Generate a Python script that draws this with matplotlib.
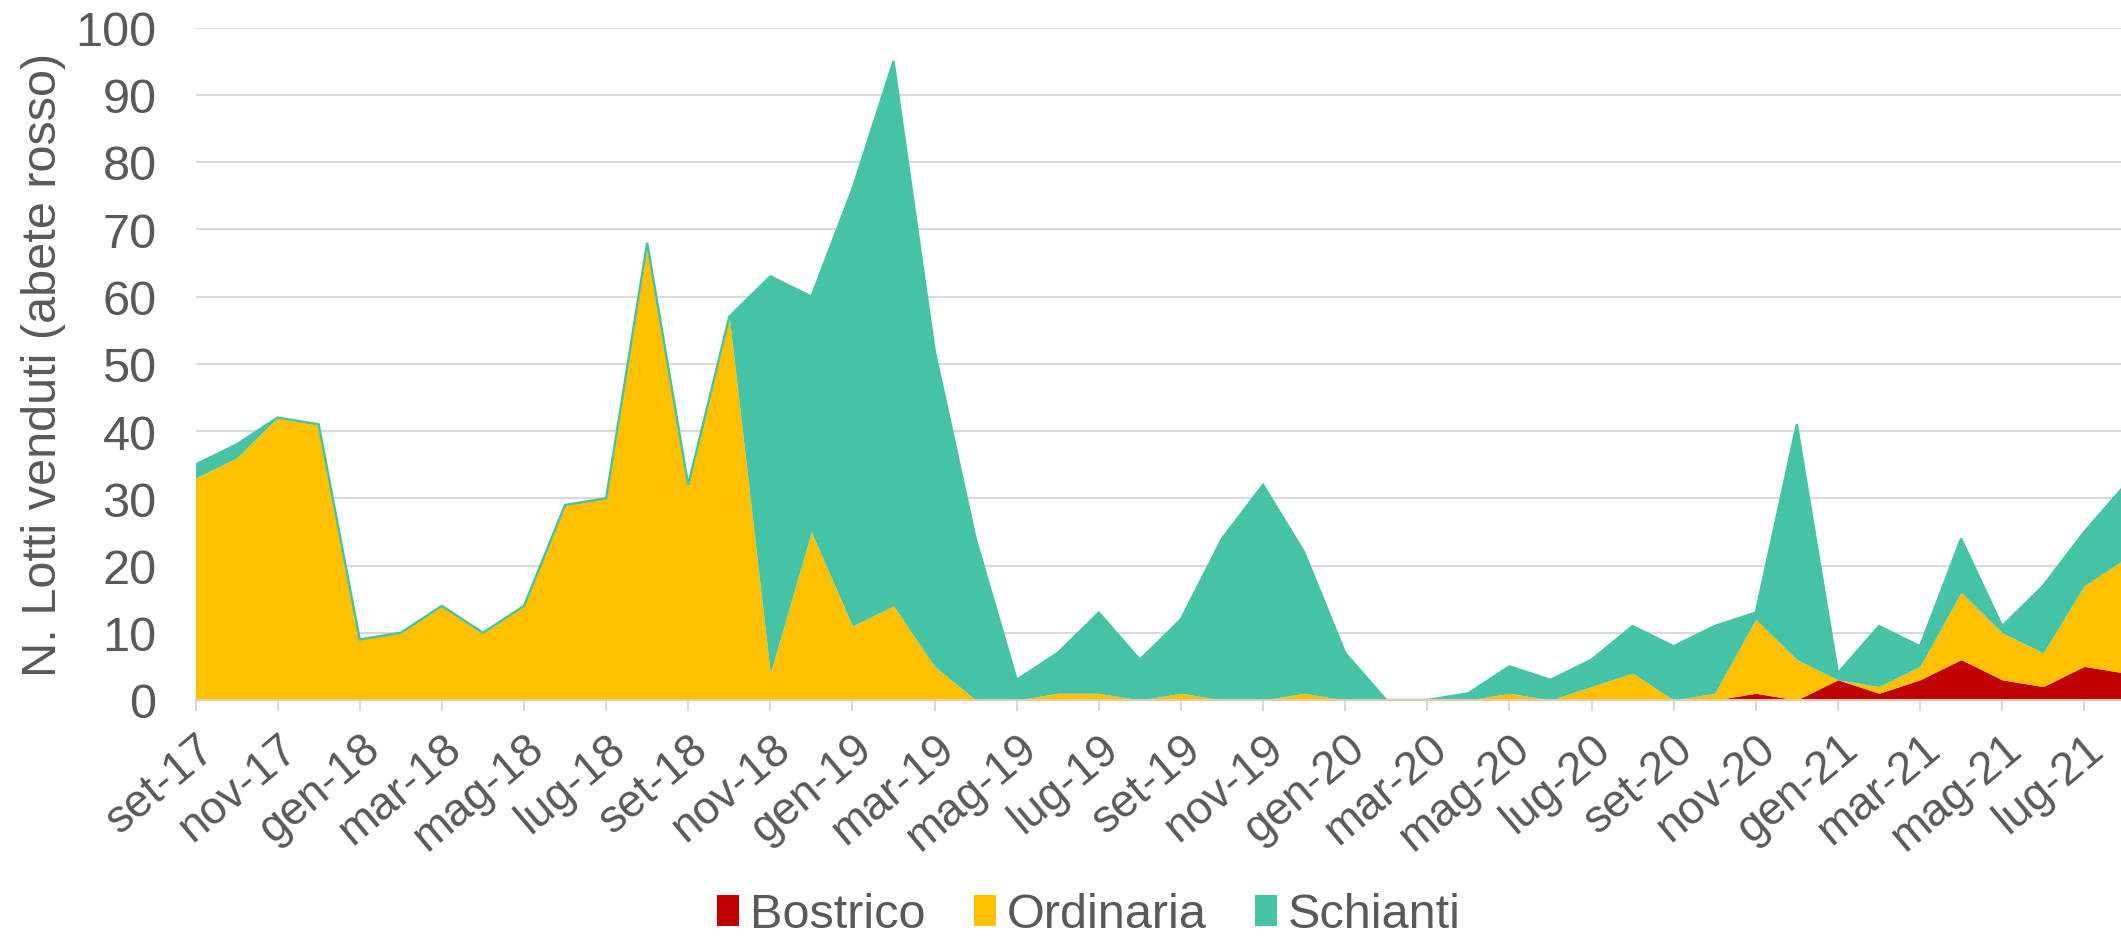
import matplotlib
matplotlib.use("Agg")
import matplotlib.pyplot as plt
import numpy as np

# ---- data (monthly, set-17 .. ago-21) ----
month_names = ["gen", "feb", "mar", "apr", "mag", "giu", "lug", "ago", "set", "ott", "nov", "dic"]
start_month = 8   # set (0-based)
start_year = 17
n_months = 48

bostrico = [0, 0, 0, 0, 0, 0, 0, 0, 0, 0, 0, 0,
            0, 0, 0, 0, 0, 0, 0, 0, 0, 0, 0, 0,
            0, 0, 0, 0, 0, 0, 0, 0, 0, 0, 0, 0,
            0, 0, 1, 0, 3, 1, 3, 6, 3, 2, 5, 4]
ordinaria = [33, 36, 42, 41, 9, 10, 14, 10, 14, 29, 30, 68,
             32, 57, 4, 25, 11, 14, 5, 0, 0, 1, 1, 0,
             1, 0, 0, 1, 0, 0, 0, 0, 1, 0, 2, 4,
             0, 1, 11, 6, 0, 1, 2, 10, 7, 5, 12, 17]
schianti = [2, 2, 0, 0, 0, 0, 0, 0, 0, 0, 0, 0,
            0, 0, 59, 35, 65, 81, 47, 24, 3, 6, 12, 6,
            11, 24, 32, 21, 7, 0, 0, 1, 4, 3, 4, 7,
            8, 10, 1, 35, 1, 9, 3, 8, 1, 10, 8, 11]

series_names = ["Bostrico", "Ordinaria", "Schianti"]
colors = ["#C00000", "#FFC000", "#46C2A5"]

labels = []
for i in range(n_months):
    m = (start_month + i) % 12
    y = start_year + (start_month + i) // 12
    labels.append(f"{month_names[m]}-{y:02d}")

# ---- plot ----
plt.rcParams["font.family"] = ["Liberation Sans", "DejaVu Sans"]
txt = "#595959"

W, H = 2121, 937
fig = plt.figure(figsize=(W / 100, H / 100), dpi=100)
left_px, right_px = 195.5, 195.5 + 47 * 41.06
top_px, bot_px = 28.5, 701.0
ax_w_px = right_px - left_px
ax = fig.add_axes([left_px / W, 1 - bot_px / H, ax_w_px / W, (bot_px - top_px) / H])

x = np.arange(n_months)
b = np.array(bostrico, float)
o = np.array(ordinaria, float)
s = np.array(schianti, float)

ax.fill_between(x, 0, b, color=colors[0], lw=0, label=series_names[0], zorder=2)
ax.fill_between(x, b, b + o, color=colors[1], lw=0, label=series_names[1], zorder=2)
ax.fill_between(x, b + o, b + o + s, color=colors[2], lw=0, label=series_names[2], zorder=2)
ax.plot(x, b + o + s, color=colors[2], lw=1.7, zorder=3, solid_joinstyle="miter")

ax.set_xlim(0, n_months - 1)
ax.set_ylim(0, 100)
ax.set_yticks(np.arange(0, 101, 10))
ax.yaxis.grid(True, color="#d9d9d9", lw=1.5, zorder=0)
ax.set_axisbelow(True)

ax.set_xticks(x[::2])
ax.set_xticklabels(labels[::2], rotation=40, ha="right", va="top",
                   rotation_mode="anchor")
ax.tick_params(axis="x", length=8, width=1.5, color="#d9d9d9", pad=10.5,
               labelsize=33, labelcolor=txt)
ax.tick_params(axis="y", length=0, pad=28, labelsize=35, labelcolor=txt)

for sp in ["top", "right", "left"]:
    ax.spines[sp].set_visible(False)
ax.spines["bottom"].set_color("#e3c9ad")
ax.spines["bottom"].set_linewidth(1.5)
ax.spines["bottom"].set_zorder(4)

ax.set_ylabel("N. Lotti venduti (abete rosso)", fontsize=35, color=txt)
ax.yaxis.set_label_coords((66 - left_px) / ax_w_px, 0.5)

handles, lbls = ax.get_legend_handles_labels()
leg = fig.legend(handles, lbls, loc="center", bbox_to_anchor=(1089 / W, 1 - 916 / H),
                 ncol=3, frameon=False, fontsize=35, labelcolor=txt,
                 handlelength=0.45, handleheight=0.6, handletextpad=0.22,
                 columnspacing=1.0, borderpad=0)

fig.savefig("out.png", dpi=100)
